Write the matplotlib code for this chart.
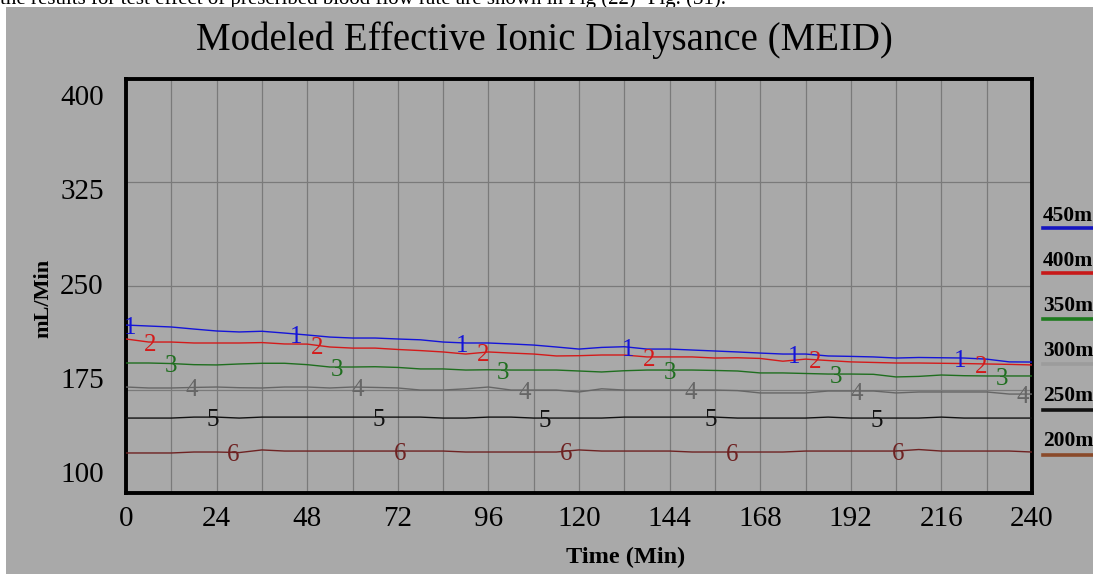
import numpy as np
import matplotlib
matplotlib.use("Agg")
import matplotlib.pyplot as plt
from matplotlib.patches import Rectangle

# ---------------- data ----------------
time_min = np.arange(0, 241, 6)

meid_450 = [221.7, 221.0, 220.3, 218.8, 217.4, 216.7, 217.2, 215.9, 214.5, 213.0,
            212.3, 212.3, 211.6, 211.0, 209.4, 208.7, 208.7, 208.0, 207.2, 205.8,
            204.3, 205.5, 206.0, 204.3, 204.3, 203.6, 202.9, 202.2, 201.4, 200.7,
            200.7, 199.3, 199.0, 198.6, 197.8, 198.2, 198.0, 197.8, 197.0, 195.0, 194.9]
meid_400 = [211.6, 209.4, 209.4, 208.7, 208.7, 208.7, 209.0, 208.0, 207.9, 205.8,
            205.0, 205.0, 204.0, 203.2, 202.2, 200.7, 202.2, 201.4, 200.7, 199.3,
            199.5, 200.0, 200.0, 198.6, 198.6, 198.6, 197.8, 198.0, 197.5, 195.5,
            197.0, 196.0, 195.0, 194.6, 194.2, 194.2, 194.0, 193.8, 193.5, 193.2, 192.8]
meid_350 = [194.2, 194.2, 193.8, 193.0, 192.8, 193.5, 194.0, 194.0, 193.0, 191.3,
            191.3, 191.5, 191.0, 189.9, 189.9, 189.1, 189.3, 189.1, 189.1, 189.1,
            188.4, 187.7, 188.6, 189.1, 189.1, 189.1, 188.8, 188.4, 187.0, 187.0,
            186.6, 186.2, 186.2, 186.0, 184.1, 184.5, 185.5, 185.0, 184.8, 184.8, 184.8]
meid_300 = [176.8, 176.1, 176.1, 176.5, 176.8, 176.3, 176.1, 176.8, 176.8, 176.1,
            176.8, 176.5, 176.1, 174.6, 174.6, 175.5, 176.8, 174.6, 174.6, 174.6,
            173.2, 175.5, 174.6, 174.6, 174.6, 174.6, 174.6, 174.2, 172.5, 172.5,
            172.5, 173.9, 173.9, 173.9, 172.5, 173.2, 173.2, 173.2, 173.2, 171.7, 171.7]
meid_250 = [154.3, 154.3, 154.3, 155.0, 155.0, 154.3, 155.0, 155.0, 155.0, 155.0,
            155.0, 155.0, 155.0, 155.0, 154.3, 154.3, 155.0, 155.0, 154.3, 154.3,
            154.3, 154.3, 155.0, 155.0, 155.0, 155.0, 155.0, 154.3, 154.3, 154.3,
            154.3, 155.0, 154.3, 154.3, 154.3, 154.3, 155.0, 154.3, 154.3, 154.3, 154.3]
meid_200 = [129.0, 129.0, 129.0, 129.7, 129.7, 129.3, 131.2, 130.4, 130.4, 130.4,
            130.4, 130.4, 130.4, 130.4, 130.4, 129.7, 129.7, 129.7, 129.7, 129.7,
            131.2, 130.4, 130.4, 130.4, 130.4, 129.7, 129.7, 129.7, 129.7, 129.7,
            130.4, 130.4, 130.4, 130.4, 130.4, 131.5, 130.4, 130.4, 130.4, 130.4, 129.7]

series = [meid_450, meid_400, meid_350, meid_300, meid_250, meid_200]
legend_labels = ["450m", "400m", "350m", "300m", "250m", "200m"]
line_colors = ["#1414d8", "#d41a1a", "#1f6e1f", "#666666", "#111111", "#6e2222"]
legend_colors = ["#1414c0", "#c81818", "#1f7a1f", "#9c9c9c", "#111111", "#8a4a2a"]

x_ticks = list(range(0, 241, 24))
y_tick_labels = ["100", "175", "250", "325", "400"]
y_grid_values = [175, 250, 325]

# ---------------- figure ----------------
BG = "#a9a9a9"
W, H = 1093, 574
fig = plt.figure(figsize=(W / 100, H / 100), dpi=100, facecolor="white")
serif = ["Liberation Serif", "DejaVu Serif"]

# line of page text at the very top (only its lower part shows above the chart)
fig.text(0.0, 1 - 4 / H,
         "the results for test effect of prescribed blood flow rate are shown in Fig (22)- Fig. (31).",
         fontsize=15, family=serif, ha="left", va="baseline", zorder=0)
fig.patches.append(Rectangle((6 / W, 0), 1 - 6 / W, 1 - 7 / H, transform=fig.transFigure,
                             facecolor=BG, edgecolor="none", zorder=1))

ax = fig.add_axes([126 / W, 1 - 493 / H, 906 / W, 414 / H], zorder=2)
ax.set_facecolor(BG)
ax.set_xlim(0, 240)
ax.set_ylim(100, 400)

# grid
ax.set_xticks(x_ticks)
ax.set_xticklabels([str(v) for v in x_ticks])
ax.set_xticks(np.arange(0, 241, 12), minor=True)
ax.set_yticks(y_grid_values, minor=True)
label_pos = np.linspace(115.2, 388.4, 5)
ax.set_yticks(label_pos)
ax.set_yticklabels(y_tick_labels)
ax.grid(True, axis="x", which="both", color="#7a7a7a", linewidth=0.9)
ax.grid(True, axis="y", which="minor", color="#7a7a7a", linewidth=0.9)
ax.grid(False, axis="y", which="major")
ax.tick_params(axis="both", which="both", length=0)
ax.tick_params(axis="x", pad=9, labelsize=21)
ax.tick_params(axis="y", pad=16, labelsize=21)
for lab in ax.get_xticklabels() + ax.get_yticklabels():
    lab.set_family(serif)
for s in ax.spines.values():
    s.set_linewidth(2.8)
    s.set_color("black")
ax.set_axisbelow(True)

# lines and number markers
for i, (vals, col) in enumerate(zip(series, line_colors)):
    ax.plot(time_min, vals, color=col, linewidth=1.0, zorder=3)
    t0 = 1 + 5.5 * i
    for t in np.arange(t0, 241, 44):
        v = np.interp(t, time_min, vals)
        ax.annotate(str(i + 1), (t, v), xytext=(0, -2), textcoords="offset points",
                    ha="center", va="center", fontsize=18, family=serif,
                    color=col, zorder=4)

# axis labels
ax.set_xlabel("Time (Min)", fontsize=17.5, fontweight="bold", family=serif)
ax.xaxis.set_label_coords((626 - 126) / 906, (493 - 557) / 414)
ax.xaxis.label.set_va("center")
ax.set_ylabel("mL/Min", fontsize=16, fontweight="bold", family=serif)
ax.yaxis.set_label_coords((43 - 126) / 906, (493 - 298) / 414)
ax.yaxis.label.set_va("center")

# title
fig.text(544 / W, 1 - 40 / H, "Modeled Effective Ionic Dialysance (MEID)",
         fontsize=28, family=serif, ha="center", va="center", zorder=3)

# legend on the right
for i, (lab, col) in enumerate(zip(legend_labels, legend_colors)):
    ytxt = 216 + 45 * i
    yline = 228 + 45.4 * i
    fig.text(1043 / W, 1 - ytxt / H, lab, fontsize=15.5, fontweight="bold",
             family=serif, ha="left", va="center", zorder=3)
    fig.lines.append(plt.Line2D([1043 / W, 1.0], [1 - yline / H, 1 - yline / H],
                                transform=fig.transFigure, color=col,
                                linewidth=2.6, zorder=3))

fig.savefig("out.png", dpi=100, facecolor=fig.get_facecolor())
